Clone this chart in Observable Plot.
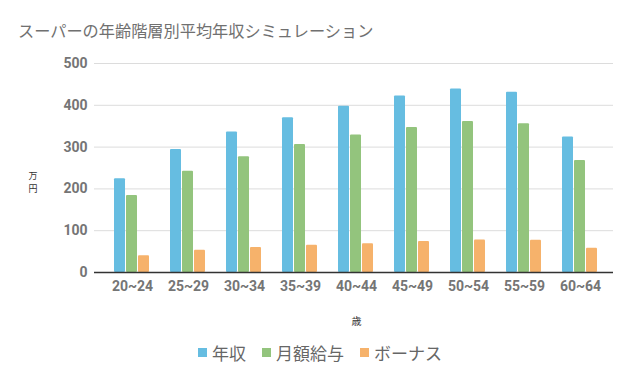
<!DOCTYPE html>
<html><head><meta charset="utf-8">
<script src="https://cdn.jsdelivr.net/npm/d3@7"></script>
<script src="https://cdn.jsdelivr.net/npm/@observablehq/plot@0.6"></script>
<style>
body{margin:0;background:#fff;width:640px;height:382px;overflow:hidden;font-family:"Noto Sans CJK JP",sans-serif;position:relative}
#title{position:absolute;left:18px;top:18px;font-size:16.2px;color:#707070;white-space:nowrap}
#chart{position:absolute;left:0;top:45px}
#legend{position:absolute;top:340px;left:0;width:640px;display:flex;justify-content:center;align-items:center;gap:16px;font-size:17px;color:#666}
#legend .item{display:flex;align-items:center}
#legend .sw{width:9px;height:9px;margin-right:5px}
</style>
</head><body>
<div id="title">スーパーの年齢階層別平均年収シミュレーション</div>
<div id="chart"></div>
<div id="legend"></div>
<script>
const ageGroups = ["20~24","25~29","30~34","35~39","40~44","45~49","50~54","55~59","60~64"];
const nenshu = [224,294,336,370,398,422,439,431,324];
const gekkyu = [184,242,277,306,329,347,361,356,268];
const bonus = [40,53,60,65,69,74,78,77,58];
const seriesNames = ["年収","月額給与","ボーナス"];
const seriesColors = ["#66bde1","#93c47d","#f6b26b"];
const yTicks = [0,100,200,300,400,500];
const yUnit = "万円";
const xUnit = "歳";

const seriesValues = [nenshu, gekkyu, bonus];
const data = [];
ageGroups.forEach((a, i) => seriesNames.forEach((s, j) => data.push({age: a, series: s, value: seriesValues[j][i]})));

// gridlines drawn in each facet, extended across the gaps between facets
const gridFor = (ages, ticks, stroke, sw, il, ir) =>
  Plot.ruleY(ages.flatMap(a => ticks.map(t => ({age: a, y: t}))),
    {fx: "age", y: "y", stroke, strokeWidth: sw, insetLeft: il, insetRight: ir});
const first = ageGroups.slice(0, 1), mid = ageGroups.slice(1, -1), last = ageGroups.slice(-1);
const gridTicks = yTicks.filter(d => d > 0), baseTick = [0];

const chart = Plot.plot({
  width: 640, height: 290,
  marginLeft: 92, marginRight: 26, marginTop: 18, marginBottom: 63,
  style: {fontFamily: "Roboto, sans-serif", background: "#fff"},
  fx: {domain: ageGroups, range: [102.3, 609.2], paddingInner: 0.35, paddingOuter: 0.175, label: null},
  x: {domain: seriesNames, paddingInner: 0.08, paddingOuter: 0, axis: null},
  y: {domain: [0, 500], label: null},
  color: {domain: seriesNames, range: seriesColors},
  marks: [
    gridFor(first, gridTicks, "#dcdcdc", 1, -20, -10),
    gridFor(mid, gridTicks, "#dcdcdc", 1, -10, -10),
    gridFor(last, gridTicks, "#dcdcdc", 1, -10, -15),
    Plot.barY(data, {fx: "age", x: "series", y: "value", fill: "series", rx: 1}),
    gridFor(first, baseTick, "#333", 1.3, -20, -10),
    gridFor(mid, baseTick, "#333", 1.3, -10, -10),
    gridFor(last, baseTick, "#333", 1.3, -10, -15),
    Plot.axisY(yTicks, {tickSize: 0, tickPadding: 27, fontSize: 14, fontWeight: "bold", fill: "#757575", label: null}),
    Plot.axisFx({anchor: "bottom", tickSize: 0, tickPadding: 9, fontSize: 14, fontWeight: "bold", fill: "#757575", label: null}),
    Plot.text([xUnit], {facet: "super", frameAnchor: "bottom", dy: 52, fontSize: 10, fill: "#333", fontFamily: "Noto Sans CJK JP"}),
    Plot.text([yUnit.split("").join("\n")], {facet: "super", frameAnchor: "left", dx: -86, dy: 13.5, fontSize: 9, lineHeight: 1.45, fill: "#333", fontFamily: "Noto Sans CJK JP"})
  ]
});
document.getElementById("chart").appendChild(chart);

const legend = document.getElementById("legend");
seriesNames.forEach((s, i) => {
  const it = document.createElement("div"); it.className = "item";
  const sw = document.createElement("span"); sw.className = "sw"; sw.style.background = seriesColors[i];
  const t = document.createElement("span"); t.textContent = s;
  it.appendChild(sw); it.appendChild(t); legend.appendChild(it);
});
</script>
</body></html>
